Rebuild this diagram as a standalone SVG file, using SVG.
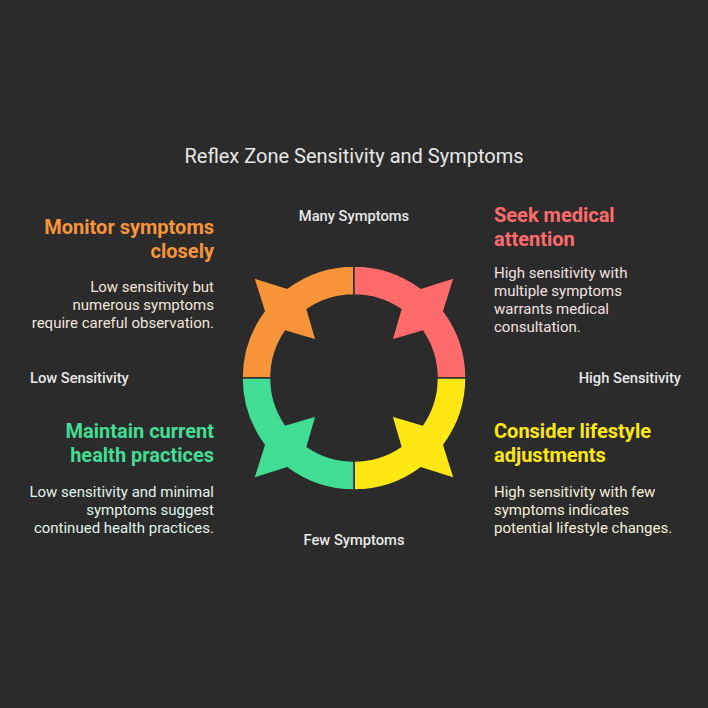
<svg xmlns="http://www.w3.org/2000/svg" xmlns:xlink="http://www.w3.org/1999/xlink" width="708" height="708" viewBox="0 0 708 708">
<defs>
<style>
text{font-family:Roboto,"Liberation Sans",sans-serif}
.title{font-size:20px;fill:#E8E8E8;text-anchor:middle}
.axis{font-size:14.7px;font-weight:500;fill:#E8E8E8}
.head{font-size:20px;font-weight:700}
.body{font-size:15px}
.seg{stroke:#2B2B2B;stroke-width:1.5;stroke-linejoin:miter}
</style>
<path id="seg" d="M242,378 A112,112 0 0 1 264.2,311.1 L253.6,277.6 L287.1,288.2 A112,112 0 0 1 354,266 L354,295 A83,83 0 0 0 307.2,309.4 L316.2,340.2 L285.4,331.2 A83,83 0 0 0 271,378 Z"/>
</defs>
<rect width="708" height="708" fill="#2B2B2B"/>
<text class="title" x="354" y="163">Reflex Zone Sensitivity and Symptoms</text>
<g id="axes">
<text class="axis" x="354" y="221" text-anchor="middle">Many Symptoms</text>
<text class="axis" x="354" y="545" text-anchor="middle">Few Symptoms</text>
<text class="axis" x="30" y="383">Low Sensitivity</text>
<text class="axis" x="681" y="383" text-anchor="end">High Sensitivity</text>
</g>
<g id="cycle">
<use id="seg-orange" xlink:href="#seg" href="#seg" class="seg" fill="#F7943A"/>
<use id="seg-red" xlink:href="#seg" href="#seg" class="seg" fill="#FF6B6B" transform="rotate(90 354 378)"/>
<use id="seg-yellow" xlink:href="#seg" href="#seg" class="seg" fill="#FFE714" transform="rotate(180 354 378)"/>
<use id="seg-green" xlink:href="#seg" href="#seg" class="seg" fill="#42DD95" transform="rotate(270 354 378)"/>
</g>
<g id="node-monitor" text-anchor="end">
<text class="head" fill="#F7943A" x="214" y="234">Monitor symptoms</text>
<text class="head" fill="#F7943A" x="214" y="258">closely</text>
<text class="body" fill="#F2E6DC" x="214" y="292">Low sensitivity but</text>
<text class="body" fill="#F2E6DC" x="214" y="310">numerous symptoms</text>
<text class="body" fill="#F2E6DC" x="214" y="328">require careful observation.</text>
</g>
<g id="node-seek">
<text class="head" fill="#FF6B6B" x="494" y="222">Seek medical</text>
<text class="head" fill="#FF6B6B" x="494" y="246">attention</text>
<text class="body" fill="#F4E2E2" x="494" y="278">High sensitivity with</text>
<text class="body" fill="#F4E2E2" x="494" y="296">multiple symptoms</text>
<text class="body" fill="#F4E2E2" x="494" y="314">warrants medical</text>
<text class="body" fill="#F4E2E2" x="494" y="332">consultation.</text>
</g>
<g id="node-maintain" text-anchor="end">
<text class="head" fill="#42DD95" x="214" y="438">Maintain current</text>
<text class="head" fill="#42DD95" x="214" y="462">health practices</text>
<text class="body" fill="#E0F4EA" x="214" y="497">Low sensitivity and minimal</text>
<text class="body" fill="#E0F4EA" x="214" y="515">symptoms suggest</text>
<text class="body" fill="#E0F4EA" x="214" y="533">continued health practices.</text>
</g>
<g id="node-consider">
<text class="head" fill="#FFE714" x="494" y="438">Consider lifestyle</text>
<text class="head" fill="#FFE714" x="494" y="462">adjustments</text>
<text class="body" fill="#F4F0D8" x="494" y="497">High sensitivity with few</text>
<text class="body" fill="#F4F0D8" x="494" y="515">symptoms indicates</text>
<text class="body" fill="#F4F0D8" x="494" y="533">potential lifestyle changes.</text>
</g>
</svg>
